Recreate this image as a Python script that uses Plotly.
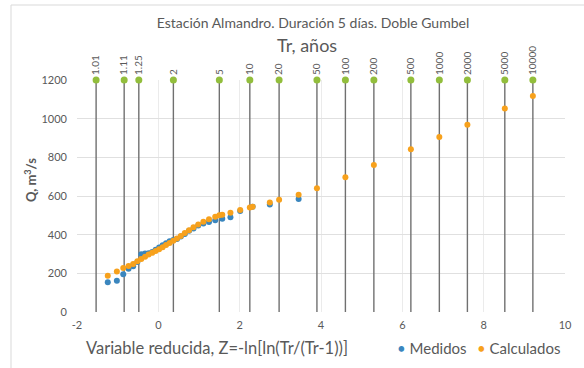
import plotly.graph_objects as go

# Return periods drawn as vertical reference lines (reduced variable Z)
tr_labels = ["1.01", "1.11", "1.25", "2", "5", "10", "20", "50", "100",
             "200", "500", "1000", "2000", "5000", "10000"]
tr_z = [-1.53, -0.84, -0.48, 0.37, 1.50, 2.25, 2.97, 3.90, 4.60,
        5.30, 6.21, 6.91, 7.60, 8.52, 9.21]

# Measured annual maxima (sorted) at their plotting positions
z_medidos = [-1.243, -1.020, -0.862, -0.732, -0.619, -0.515, -0.419, -0.327,
             -0.238, -0.151, -0.066, 0.019, 0.105, 0.190, 0.277, 0.367,
             0.458, 0.553, 0.651, 0.755, 0.865, 0.982, 1.108, 1.246,
             1.399, 1.572, 1.773, 2.013, 2.319, 2.741, 3.450]
q_medidos = [154, 162, 195, 224, 236, 258, 299, 302, 304, 310, 322, 333,
             345, 356, 366, 372, 378, 390, 404, 420, 432, 447, 458, 466,
             474, 482, 490, 522, 545, 556, 585]

# Double Gumbel fit, evaluated at the sample positions and at the Tr values
z_calc = [-1.243, -1.020, -0.862, -0.732, -0.619, -0.515, -0.419, -0.327,
          -0.238, -0.151, -0.066, 0.019, 0.105, 0.190, 0.277, 0.367,
          0.458, 0.553, 0.651, 0.755, 0.865, 0.982, 1.108, 1.246,
          1.399, 1.572, 1.773, 2.013, 2.319, 2.741, 3.450,
          1.50, 2.25, 2.97, 3.90, 4.60, 5.30, 6.21, 6.91, 7.60, 8.52, 9.21]
q_calc = [188, 210, 227, 238, 248, 262, 274, 286, 297, 306, 315, 325,
          335, 346, 357, 368, 380, 393, 408, 423, 438, 453, 467, 480,
          493, 503, 514, 528, 545, 566, 607,
          500, 541, 580, 640, 697, 760, 842, 905, 968, 1053, 1117]

x_ticks = [-2, 0, 2, 4, 6, 8, 10]
x_tick_text = ["-2", "0", "2", "4", "6", "8", "10"]
y_ticks = [0, 200, 400, 600, 800, 1000, 1200]

FONT = "Lato"
GREY = "#595959"
BLUE = "#3A86BE"
ORANGE = "#F7A11C"
GREEN = "#92BE3C"

q_top = y_ticks[-1]

# vertical lines for each return period
line_x, line_y = [], []
for z in tr_z:
    line_x += [z, z, None]
    line_y += [0, q_top, None]

fig = go.Figure()
fig.add_trace(go.Scatter(x=line_x, y=line_y, mode="lines",
                         line=dict(color="#707070", width=1.4),
                         hoverinfo="skip", showlegend=False))
fig.add_trace(go.Scatter(x=tr_z, y=[q_top] * len(tr_z), mode="markers",
                         xaxis="x2", cliponaxis=False,
                         marker=dict(color=GREEN, size=7),
                         showlegend=False))
fig.add_trace(go.Scatter(x=z_medidos, y=q_medidos, mode="markers",
                         name="Medidos",
                         marker=dict(color=BLUE, size=6), showlegend=False))
fig.add_trace(go.Scatter(x=z_calc, y=q_calc, mode="markers",
                         name="Calculados",
                         marker=dict(color=ORANGE, size=6), showlegend=False))

W, H = 584, 368
L, R, T, B = 77, 19, 80, 56
pw, ph = W - L - R, H - T - B


def px(xp):
    return (xp - L) / pw


def py(yp):
    return (H - B - yp) / ph


fig.update_layout(
    width=W, height=H,
    margin=dict(l=L, r=R, t=T, b=B, pad=0),
    paper_bgcolor="white", plot_bgcolor="white",
    font=dict(family=FONT, color=GREY, size=11),
    title=dict(text="Estación Almandro. Duración 5 días. Doble Gumbel",
               x=313 / W, xanchor="center", y=1 - 23 / H, yanchor="middle",
               font=dict(family=FONT, size=14, color=GREY)),
    xaxis=dict(range=[x_ticks[0], x_ticks[-1]], tickvals=x_ticks,
               ticktext=x_tick_text,
               showgrid=True, gridcolor="#ebebeb", gridwidth=1,
               zeroline=False, showline=False, ticks="",
               ticklabelstandoff=5,
               tickfont=dict(size=11, color=GREY)),
    xaxis2=dict(range=[x_ticks[0], x_ticks[-1]], overlaying="x",
                side="top", anchor="y", tickvals=tr_z, ticktext=tr_labels,
                tickangle=-90, showgrid=False, zeroline=False,
                showline=False, ticks="", ticklabelstandoff=4,
                tickfont=dict(size=10, color=GREY)),
    yaxis=dict(range=[y_ticks[0], y_ticks[-1]], tickvals=y_ticks,
               showgrid=True, gridcolor="#e0e0e0", gridwidth=1,
               zeroline=False, showline=False, ticks="",
               ticklabelstandoff=9,
               tickfont=dict(size=11, color=GREY)),
    showlegend=False,
)

fig.add_shape(type="rect", xref="paper", yref="paper",
              x0=px(11), x1=px(W + 20), y0=py(H + 20), y1=py(5),
              line=dict(color="#d9d9d9", width=1), layer="below")

annotations = [
    dict(text="Tr, años", x=px(307), y=py(45), font=dict(size=18)),
    dict(text="<b>Q, m<sup>3</sup>/s</b>", x=px(30), y=py(180), textangle=-90,
         font=dict(size=13)),
    dict(text="Variable reducida, Z=-ln[ln(Tr/(Tr-1))]", x=px(217),
         y=py(348), font=dict(size=16.5)),
    dict(text=f"<span style='color:{BLUE}'>•</span> Medidos", x=px(395),
         y=py(348), xanchor="left", font=dict(size=15)),
    dict(text=f"<span style='color:{ORANGE}'>•</span> Calculados", x=px(475),
         y=py(348), xanchor="left", font=dict(size=15)),
]
for a in annotations:
    base = dict(xref="paper", yref="paper", showarrow=False,
                xanchor="center", yanchor="middle")
    base.update(a)
    base["font"] = dict(family=FONT, color=GREY, **a["font"])
    fig.add_annotation(**base)

fig.write_html("out.html")
